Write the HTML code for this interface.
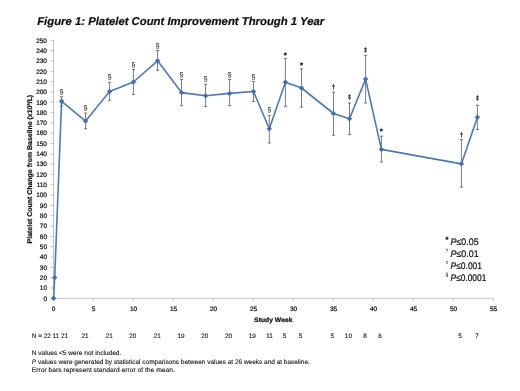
<!DOCTYPE html>
<html lang="en"><head><meta charset="utf-8"><title>Figure 1: Platelet Count Improvement Through 1 Year</title>
<style>html,body{margin:0;padding:0;background:#fff;}body{width:520px;height:391px;overflow:hidden;}svg{display:block;}text{font-family:'Liberation Sans', sans-serif;fill:#111;stroke:#111;stroke-width:0.22px;text-rendering:geometricPrecision;}.lt text{stroke-width:0.1px;}.b text,text.b{stroke-width:0.08px;}</style></head><body>
<svg width="520" height="391" viewBox="0 0 520 391">
<defs><filter id="soft" x="0" y="0" width="520" height="391" filterUnits="userSpaceOnUse"><feGaussianBlur stdDeviation="0.35"/></filter></defs>
<rect width="520" height="391" fill="#ffffff"/>
<g filter="url(#soft)">
<text x="37.2" y="25.2" font-size="11.3" font-weight="bold" font-style="italic" fill="#000" textLength="287" lengthAdjust="spacingAndGlyphs">Figure 1: Platelet Count Improvement Through 1 Year</text>
<g stroke="#9c9c9c" stroke-width="0.6" fill="none">
<line x1="53.5" y1="40.3" x2="53.5" y2="298.3"/>
<line x1="53.5" y1="298.3" x2="493.5" y2="298.3"/>
<line x1="50.3" y1="298.30" x2="53.5" y2="298.30"/>
<line x1="50.3" y1="287.98" x2="53.5" y2="287.98"/>
<line x1="50.3" y1="277.66" x2="53.5" y2="277.66"/>
<line x1="50.3" y1="267.34" x2="53.5" y2="267.34"/>
<line x1="50.3" y1="257.02" x2="53.5" y2="257.02"/>
<line x1="50.3" y1="246.70" x2="53.5" y2="246.70"/>
<line x1="50.3" y1="236.38" x2="53.5" y2="236.38"/>
<line x1="50.3" y1="226.06" x2="53.5" y2="226.06"/>
<line x1="50.3" y1="215.74" x2="53.5" y2="215.74"/>
<line x1="50.3" y1="205.42" x2="53.5" y2="205.42"/>
<line x1="50.3" y1="195.10" x2="53.5" y2="195.10"/>
<line x1="50.3" y1="184.78" x2="53.5" y2="184.78"/>
<line x1="50.3" y1="174.46" x2="53.5" y2="174.46"/>
<line x1="50.3" y1="164.14" x2="53.5" y2="164.14"/>
<line x1="50.3" y1="153.82" x2="53.5" y2="153.82"/>
<line x1="50.3" y1="143.50" x2="53.5" y2="143.50"/>
<line x1="50.3" y1="133.18" x2="53.5" y2="133.18"/>
<line x1="50.3" y1="122.86" x2="53.5" y2="122.86"/>
<line x1="50.3" y1="112.54" x2="53.5" y2="112.54"/>
<line x1="50.3" y1="102.22" x2="53.5" y2="102.22"/>
<line x1="50.3" y1="91.90" x2="53.5" y2="91.90"/>
<line x1="50.3" y1="81.58" x2="53.5" y2="81.58"/>
<line x1="50.3" y1="71.26" x2="53.5" y2="71.26"/>
<line x1="50.3" y1="60.94" x2="53.5" y2="60.94"/>
<line x1="50.3" y1="50.62" x2="53.5" y2="50.62"/>
<line x1="50.3" y1="40.30" x2="53.5" y2="40.30"/>
<line x1="53.5" y1="298.3" x2="53.5" y2="300.7"/>
<line x1="93.5" y1="298.3" x2="93.5" y2="300.7"/>
<line x1="133.5" y1="298.3" x2="133.5" y2="300.7"/>
<line x1="173.5" y1="298.3" x2="173.5" y2="300.7"/>
<line x1="213.5" y1="298.3" x2="213.5" y2="300.7"/>
<line x1="253.5" y1="298.3" x2="253.5" y2="300.7"/>
<line x1="293.5" y1="298.3" x2="293.5" y2="300.7"/>
<line x1="333.5" y1="298.3" x2="333.5" y2="300.7"/>
<line x1="373.5" y1="298.3" x2="373.5" y2="300.7"/>
<line x1="413.5" y1="298.3" x2="413.5" y2="300.7"/>
<line x1="453.5" y1="298.3" x2="453.5" y2="300.7"/>
<line x1="493.5" y1="298.3" x2="493.5" y2="300.7"/>
</g>
<g font-size="6.5" text-anchor="end" fill="#000">
<text x="47" y="300.60">0</text>
<text x="47" y="290.28">10</text>
<text x="47" y="279.96">20</text>
<text x="47" y="269.64">30</text>
<text x="47" y="259.32">40</text>
<text x="47" y="249.00">50</text>
<text x="47" y="238.68">60</text>
<text x="47" y="228.36">70</text>
<text x="47" y="218.04">80</text>
<text x="47" y="207.72">90</text>
<text x="47" y="197.40">100</text>
<text x="47" y="187.08">110</text>
<text x="47" y="176.76">120</text>
<text x="47" y="166.44">130</text>
<text x="47" y="156.12">140</text>
<text x="47" y="145.80">150</text>
<text x="47" y="135.48">160</text>
<text x="47" y="125.16">170</text>
<text x="47" y="114.84">180</text>
<text x="47" y="104.52">190</text>
<text x="47" y="94.20">200</text>
<text x="47" y="83.88">210</text>
<text x="47" y="73.56">220</text>
<text x="47" y="63.24">230</text>
<text x="47" y="52.92">240</text>
<text x="47" y="42.60">250</text>
</g>
<g font-size="6.5" text-anchor="middle" fill="#000">
<text x="53.5" y="310.5">0</text>
<text x="93.5" y="310.5">5</text>
<text x="133.5" y="310.5">10</text>
<text x="173.5" y="310.5">15</text>
<text x="213.5" y="310.5">20</text>
<text x="253.5" y="310.5">25</text>
<text x="293.5" y="310.5">30</text>
<text x="333.5" y="310.5">35</text>
<text x="373.5" y="310.5">40</text>
<text x="413.5" y="310.5">45</text>
<text x="453.5" y="310.5">50</text>
<text x="493.5" y="310.5">55</text>
</g>
<text x="273.3" y="321.6" font-size="6.6" font-weight="bold" text-anchor="middle" textLength="38.4" lengthAdjust="spacingAndGlyphs">Study Week</text>
<text transform="translate(32.4 169.1) rotate(-90)" font-size="6.9" font-weight="bold" text-anchor="middle" textLength="148.6" lengthAdjust="spacingAndGlyphs">Platelet Count Change from Baseline (x10<tspan font-size="4" dy="-2.4">9</tspan><tspan dy="2.4">/L)</tspan></text>
<g stroke="#454545" stroke-width="0.7" fill="none">
<path d="M61.6 96.7V106.0M60.0 96.7H63.2M60.0 106.0H63.2"/>
<path d="M85.6 113.0V128.8M84.0 113.0H87.2M84.0 128.8H87.2"/>
<path d="M109.6 82.3V100.2M108.0 82.3H111.2M108.0 100.2H111.2"/>
<path d="M133.4 69.5V94.5M131.8 69.5H135.0M131.8 94.5H135.0"/>
<path d="M157.6 50.5V70.3M156.0 50.5H159.2M156.0 70.3H159.2"/>
<path d="M181.5 79.5V105.7M179.9 79.5H183.1M179.9 105.7H183.1"/>
<path d="M205.6 84.2V106.6M204.0 84.2H207.2M204.0 106.6H207.2"/>
<path d="M229.6 79.5V105.7M228.0 79.5H231.2M228.0 105.7H231.2"/>
<path d="M253.5 81.5V101.5M251.9 81.5H255.1M251.9 101.5H255.1"/>
<path d="M269.3 115.4V143.0M267.7 115.4H270.9M267.7 143.0H270.9"/>
<path d="M285.4 58.5V106.3M283.8 58.5H287.0M283.8 106.3H287.0"/>
<path d="M301.5 68.8V107.2M299.9 68.8H303.1M299.9 107.2H303.1"/>
<path d="M333.5 92.1V135.2M331.9 92.1H335.1M331.9 135.2H335.1"/>
<path d="M349.5 103.0V134.6M347.9 103.0H351.1M347.9 134.6H351.1"/>
<path d="M365.6 55.3V103.0M364.0 55.3H367.2M364.0 103.0H367.2"/>
<path d="M381.4 136.2V162.0M379.8 136.2H383.0M379.8 162.0H383.0"/>
<path d="M461.4 139.6V187.2M459.8 139.6H463.0M459.8 187.2H463.0"/>
<path d="M477.4 105.3V129.4M475.8 105.3H479.0M475.8 129.4H479.0"/>
</g>
<path d="M53.6 298.3 L54.7 277.6 L61.6 101.3 L85.6 121.1 L109.6 91.5 L133.4 82.0 L157.6 60.8 L181.5 92.6 L205.6 95.7 L229.6 93.4 L253.5 91.5 L269.3 128.8 L285.4 82.3 L301.5 88.0 L333.5 113.5 L349.5 118.7 L365.6 79.1 L381.4 149.4 L461.4 163.9 L477.4 117.2" fill="none" stroke="#487ab9" stroke-width="1.6" stroke-linejoin="round" stroke-linecap="round"/>
<g fill="#4170b0">
<path d="M53.6 295.6L56.3 298.3L53.6 301.0L50.9 298.3Z"/>
<path d="M54.7 274.9L57.4 277.6L54.7 280.3L52.0 277.6Z"/>
<path d="M61.6 98.6L64.3 101.3L61.6 104.0L58.9 101.3Z"/>
<path d="M85.6 118.4L88.3 121.1L85.6 123.8L82.9 121.1Z"/>
<path d="M109.6 88.8L112.3 91.5L109.6 94.2L106.9 91.5Z"/>
<path d="M133.4 79.3L136.1 82.0L133.4 84.7L130.7 82.0Z"/>
<path d="M157.6 58.1L160.3 60.8L157.6 63.5L154.9 60.8Z"/>
<path d="M181.5 89.9L184.2 92.6L181.5 95.3L178.8 92.6Z"/>
<path d="M205.6 93.0L208.3 95.7L205.6 98.4L202.9 95.7Z"/>
<path d="M229.6 90.7L232.3 93.4L229.6 96.1L226.9 93.4Z"/>
<path d="M253.5 88.8L256.2 91.5L253.5 94.2L250.8 91.5Z"/>
<path d="M269.3 126.1L272.0 128.8L269.3 131.5L266.6 128.8Z"/>
<path d="M285.4 79.6L288.1 82.3L285.4 85.0L282.7 82.3Z"/>
<path d="M301.5 85.3L304.2 88.0L301.5 90.7L298.8 88.0Z"/>
<path d="M333.5 110.8L336.2 113.5L333.5 116.2L330.8 113.5Z"/>
<path d="M349.5 116.0L352.2 118.7L349.5 121.4L346.8 118.7Z"/>
<path d="M365.6 76.4L368.3 79.1L365.6 81.8L362.9 79.1Z"/>
<path d="M381.4 146.7L384.1 149.4L381.4 152.1L378.7 149.4Z"/>
<path d="M461.4 161.2L464.1 163.9L461.4 166.6L458.7 163.9Z"/>
<path d="M477.4 114.5L480.1 117.2L477.4 119.9L474.7 117.2Z"/>
</g>
<g font-size="7.5" text-anchor="middle" fill="#222" font-weight="bold">
<text x="61.6" y="93.7" font-weight="normal" font-size="6.8" style="stroke-width:0.08px">§</text>
<text x="85.6" y="110.0" font-weight="normal" font-size="6.8" style="stroke-width:0.08px">§</text>
<text x="109.6" y="79.3" font-weight="normal" font-size="6.8" style="stroke-width:0.08px">§</text>
<text x="133.4" y="66.5" font-weight="normal" font-size="6.8" style="stroke-width:0.08px">§</text>
<text x="157.6" y="47.5" font-weight="normal" font-size="6.8" style="stroke-width:0.08px">§</text>
<text x="181.5" y="76.5" font-weight="normal" font-size="6.8" style="stroke-width:0.08px">§</text>
<text x="205.6" y="81.2" font-weight="normal" font-size="6.8" style="stroke-width:0.08px">§</text>
<text x="229.6" y="76.5" font-weight="normal" font-size="6.8" style="stroke-width:0.08px">§</text>
<text x="253.5" y="78.5" font-weight="normal" font-size="6.8" style="stroke-width:0.08px">§</text>
<text x="269.3" y="112.4" font-weight="normal" font-size="6.8" style="stroke-width:0.08px">§</text>
<text x="285.4" y="58.0" font-size="8">*</text>
<text x="301.5" y="68.0" font-size="8">*</text>
<text x="333.5" y="89.3" font-size="6.2">†</text>
<text x="349.5" y="98.8" font-size="6.2">‡</text>
<text x="365.6" y="52.0" font-size="6.2">‡</text>
<text x="381.4" y="134.1" font-size="8">*</text>
<text x="461.4" y="136.7" font-size="6.2">†</text>
<text x="477.4" y="100.2" font-size="6.2">‡</text>
</g>
<g font-size="6.4" class="lt">
<text x="31.8" y="338" textLength="36.2" lengthAdjust="spacingAndGlyphs">N = 22 11 21</text>
</g>
<g font-size="6.4" text-anchor="middle" class="lt">
<text x="85.1" y="338">21</text>
<text x="109.2" y="338">21</text>
<text x="132.7" y="338">20</text>
<text x="157.3" y="338">21</text>
<text x="181.0" y="338">19</text>
<text x="204.8" y="338">20</text>
<text x="228.6" y="338">20</text>
<text x="252.3" y="338">19</text>
<text x="269.5" y="338">11</text>
<text x="284.5" y="338">5</text>
<text x="300.5" y="338">5</text>
<text x="332.2" y="338">5</text>
<text x="348.4" y="338">10</text>
<text x="365.0" y="338">8</text>
<text x="380.0" y="338">6</text>
<text x="460.0" y="338">5</text>
<text x="477.1" y="338">7</text>
</g>
<g font-size="6.6" class="lt">
<text x="31.8" y="354.6" textLength="89.5" lengthAdjust="spacingAndGlyphs">N values &lt;5 were not included.</text>
<text x="31.8" y="363.5" textLength="278" lengthAdjust="spacingAndGlyphs"><tspan font-style="italic">P</tspan> values were generated by statistical comparisons between values at 26 weeks and at baseline.</text>
<text x="31.8" y="372.4" textLength="143" lengthAdjust="spacingAndGlyphs">Error bars represent standard error of the mean.</text>
</g>
<g font-size="9.5">
<text x="445.6" y="242.4" font-size="7.5" font-weight="bold">*</text>
<text x="450.6" y="244.6" textLength="28.0" lengthAdjust="spacingAndGlyphs"><tspan font-style="italic">P</tspan>≤0.05</text>
<text x="445.8" y="252.4" font-size="4.5" style="stroke-width:0.08px">†</text>
<text x="450.6" y="256.8" textLength="28.0" lengthAdjust="spacingAndGlyphs"><tspan font-style="italic">P</tspan>≤0.01</text>
<text x="445.8" y="264.4" font-size="4.5" style="stroke-width:0.08px">‡</text>
<text x="450.6" y="268.8" textLength="31.4" lengthAdjust="spacingAndGlyphs"><tspan font-style="italic">P</tspan>≤0.001</text>
<text x="445.8" y="276.4" font-size="4.5" style="stroke-width:0.08px">§</text>
<text x="450.6" y="280.8" textLength="35.7" lengthAdjust="spacingAndGlyphs"><tspan font-style="italic">P</tspan>≤0.0001</text>
</g>
</g>
</svg></body></html>
